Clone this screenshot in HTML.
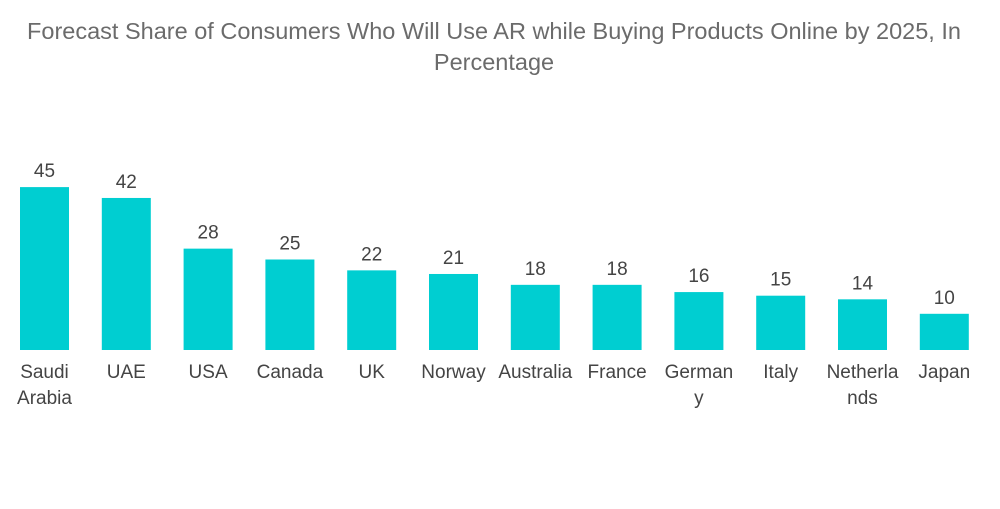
<!DOCTYPE html>
<html><head><meta charset="utf-8"><style>
body{margin:0;background:#fff;width:1000px;height:504px;overflow:hidden;font-family:"Liberation Sans",sans-serif}
</style></head><body>
<svg width="1000" height="504">
<text x="494" y="39" text-anchor="middle" font-size="23.5" fill="#6b6b6b">Forecast Share of Consumers Who Will Use AR while Buying Products Online by 2025, In</text>
<text x="494" y="70" text-anchor="middle" font-size="23.5" fill="#6b6b6b">Percentage</text>
<g id="bars"></g>
</svg>
<script>
const categories=[["Saudi","Arabia"],["UAE"],["USA"],["Canada"],["UK"],["Norway"],["Australia"],["France"],["German","y"],["Italy"],["Netherla","nds"],["Japan"]];
const values=[45,42,28,25,22,21,18,18,16,15,14,10];
const g=document.getElementById('bars');
const NS='http://www.w3.org/2000/svg';
const base=350, scale=3.62, x0=20, step=81.8, bw=49;
function xPos(i){return x0+i*step;}
function yPos(v){return base-v*scale;}
values.forEach((v,i)=>{
 const r=document.createElementNS(NS,'rect');
 r.setAttribute('x',xPos(i));r.setAttribute('y',yPos(v));
 r.setAttribute('width',bw);r.setAttribute('height',base-yPos(v));
 r.setAttribute('fill','#00ced1');
 
 
 g.appendChild(r);
 const t=document.createElementNS(NS,'text');
 t.setAttribute('x',xPos(i)+bw/2);t.setAttribute('y',yPos(v)-10);
 t.setAttribute('text-anchor','middle');t.setAttribute('font-size','19');t.setAttribute('fill','#444');
 t.textContent=v;
 
 
 g.appendChild(t);
 categories[i].forEach((line,j)=>{
  const c=document.createElementNS(NS,'text');
  c.setAttribute('x',xPos(i)+bw/2);c.setAttribute('y',378+j*26);
  c.setAttribute('text-anchor','middle');c.setAttribute('font-size','19');c.setAttribute('fill','#444');
  c.textContent=line;
  
  
  g.appendChild(c);
 });
});
</script>
</body></html>
